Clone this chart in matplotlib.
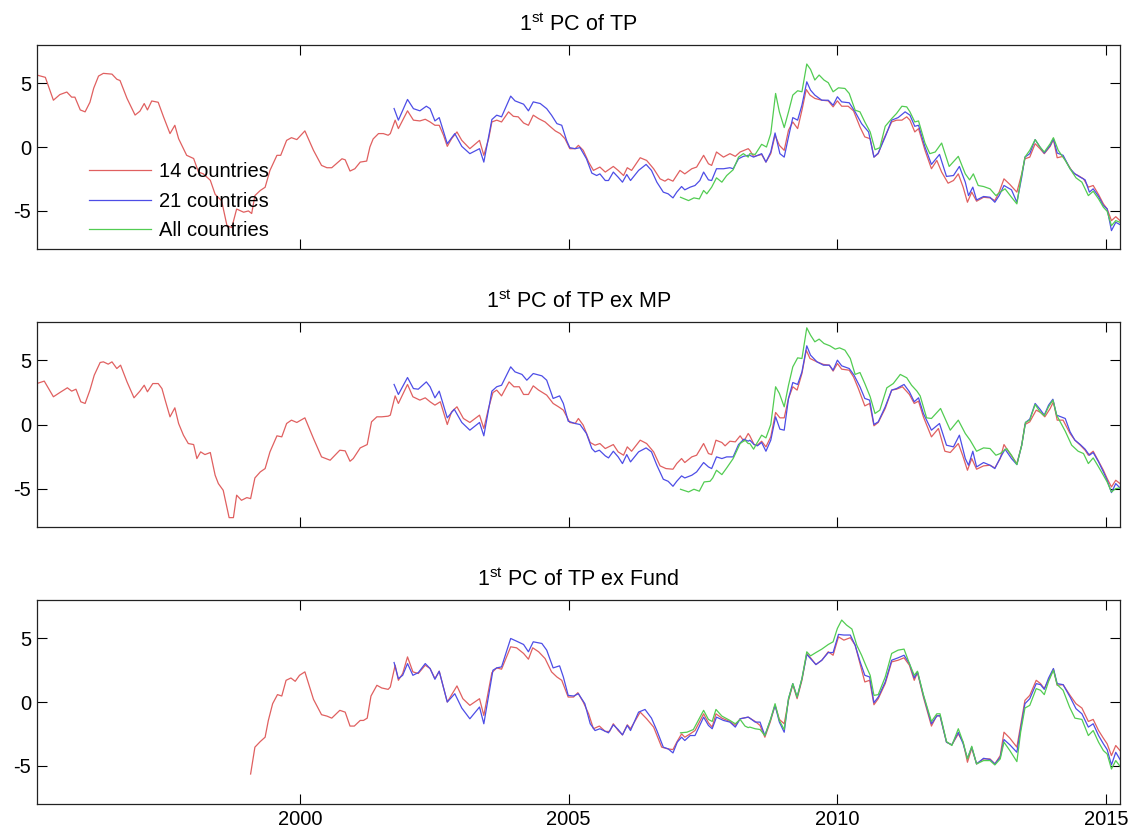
import matplotlib
matplotlib.use("Agg")
import matplotlib.pyplot as plt

plt.rcParams['font.family'] = ['Liberation Sans', 'DejaVu Sans']
plt.rcParams['mathtext.fontset'] = 'custom'
plt.rcParams['mathtext.rm'] = 'Liberation Sans'
plt.rcParams['axes.unicode_minus'] = False

# series labels and panel titles
labels = ['14 countries', '21 countries', 'All countries']
titles = [r'1$^{\rm st}$ PC of TP', r'1$^{\rm st}$ PC of TP ex MP', r'1$^{\rm st}$ PC of TP ex Fund']
x_ticks = [2000, 2005, 2010, 2015]
y_ticks = [-5, 0, 5]

# --- panel 1: 1st PC of TP ---
tp_14_x = [1995.10, 1995.26, 1995.41, 1995.53, 1995.66, 1995.75, 1995.81, 1995.91, 1996.00, 1996.09,
           1996.16, 1996.25, 1996.34, 1996.50, 1996.59, 1996.65, 1996.78, 1996.93, 1997.02, 1997.10,
           1997.16, 1997.24, 1997.36, 1997.46, 1997.58, 1997.67, 1997.74, 1997.89, 1998.02, 1998.11,
           1998.20, 1998.33, 1998.42, 1998.54, 1998.64, 1998.73, 1998.82, 1998.95, 1999.04, 1999.10,
           1999.16, 1999.26, 1999.35, 1999.44, 1999.57, 1999.64, 1999.75, 1999.84, 1999.94, 2000.09,
           2000.25, 2000.40, 2000.50, 2000.59, 2000.78, 2000.84, 2000.93, 2001.02, 2001.12, 2001.24,
           2001.30, 2001.36, 2001.46, 2001.55, 2001.64, 2001.68, 2001.77, 2001.83, 2002.00, 2002.11,
           2002.23, 2002.33, 2002.42, 2002.51, 2002.59, 2002.67, 2002.74, 2002.82, 2002.92, 2003.01,
           2003.16, 2003.34, 2003.42, 2003.51, 2003.57, 2003.66, 2003.75, 2003.88, 2003.97, 2004.06,
           2004.16, 2004.25, 2004.34, 2004.44, 2004.56, 2004.65, 2004.75, 2004.84, 2004.93, 2005.02,
           2005.12, 2005.18, 2005.27, 2005.37, 2005.46, 2005.58, 2005.68, 2005.83, 2005.92, 2006.02,
           2006.09, 2006.17, 2006.33, 2006.45, 2006.58, 2006.70, 2006.79, 2006.85, 2006.94, 2007.07,
           2007.16, 2007.29, 2007.38, 2007.51, 2007.60, 2007.66, 2007.75, 2007.88, 2008.00, 2008.10,
           2008.19, 2008.34, 2008.37, 2008.44, 2008.53, 2008.59, 2008.67, 2008.76, 2008.84, 2008.92,
           2009.01, 2009.09, 2009.17, 2009.26, 2009.34, 2009.42, 2009.49, 2009.58, 2009.71, 2009.83,
           2009.92, 2010.00, 2010.08, 2010.20, 2010.30, 2010.42, 2010.51, 2010.61, 2010.68, 2010.76,
           2010.85, 2011.01, 2011.10, 2011.20, 2011.29, 2011.35, 2011.44, 2011.51, 2011.63, 2011.75,
           2011.85, 2011.94, 2012.06, 2012.16, 2012.25, 2012.34, 2012.42, 2012.50, 2012.59, 2012.72,
           2012.84, 2012.93, 2013.01, 2013.10, 2013.21, 2013.34, 2013.43, 2013.49, 2013.58, 2013.68,
           2013.77, 2013.85, 2013.96, 2014.02, 2014.09, 2014.20, 2014.30, 2014.39, 2014.48, 2014.58,
           2014.67, 2014.76, 2014.86, 2014.95, 2015.02, 2015.10, 2015.18, 2015.26]
tp_14_y = [5.63, 5.45, 3.66, 4.10, 4.30, 3.90, 3.90, 2.90, 2.75, 3.50,
           4.60, 5.55, 5.76, 5.70, 5.30, 5.20, 3.80, 2.50, 2.80, 3.40,
           2.90, 3.60, 3.50, 2.35, 1.05, 1.70, 0.65, -0.65, -0.90, -1.96,
           -2.10, -2.60, -3.70, -4.20, -6.15, -6.30, -4.85, -5.10, -5.00, -5.20,
           -3.80, -3.40, -3.15, -1.83, -0.65, -0.65, 0.52, 0.73, 0.58, 1.26,
           -0.26, -1.44, -1.62, -1.62, -0.92, -1.00, -1.88, -1.70, -1.18, -1.10,
           0.00, 0.63, 1.05, 1.05, 0.92, 1.05, 2.10, 1.44, 2.83, 2.10,
           2.04, 2.17, 1.96, 1.70, 1.70, 0.92, 0.05, 0.65, 1.18, 0.52,
           -0.13, 0.52, -0.65, 0.65, 1.96, 2.10, 1.96, 2.75, 2.40, 2.36,
           1.88, 1.70, 2.49, 2.22, 1.96, 1.62, 1.26, 1.05, 0.65, -0.13,
           -0.13, 0.13, -0.26, -1.18, -1.83, -1.57, -1.96, -1.52, -1.83, -2.23,
           -1.62, -1.83, -0.84, -1.05, -1.70, -2.49, -2.67, -2.50, -2.67, -1.83,
           -2.10, -1.70, -1.57, -0.65, -1.31, -1.44, -0.39, -0.79, -0.52, -0.73,
           -0.39, -0.13, -0.26, -0.73, -0.65, -0.58, -1.18, -0.52, 0.92, 0.13,
           -0.26, 1.31, 1.96, 1.44, 2.88, 4.50, 4.06, 3.80, 3.66, 3.61,
           3.14, 3.61, 3.19, 3.19, 2.83, 1.57, 0.79, 0.65, -0.79, -0.52,
           0.52, 1.96, 2.10, 2.10, 2.36, 2.10, 1.18, 1.44, -0.26, -1.70,
           -1.05, -1.96, -2.83, -2.62, -2.10, -3.14, -4.32, -3.53, -4.24, -3.93,
           -3.98, -4.19, -3.53, -2.49, -2.93, -3.53, -2.10, -0.92, -0.79, 0.26,
           -0.13, -0.52, 0.05, 0.58, -0.84, -0.73, -1.44, -2.04, -2.23, -2.49,
           -3.14, -3.01, -3.72, -4.45, -4.84, -5.76, -5.45, -5.76]

tp_21_x = [2001.75, 2001.83, 2002.00, 2002.11, 2002.23, 2002.35, 2002.42, 2002.51, 2002.59, 2002.74,
           2002.88, 2003.01, 2003.16, 2003.34, 2003.42, 2003.57, 2003.66, 2003.75, 2003.92, 2004.00,
           2004.16, 2004.25, 2004.34, 2004.47, 2004.59, 2004.68, 2004.78, 2004.87, 2004.96, 2005.02,
           2005.12, 2005.21, 2005.33, 2005.43, 2005.52, 2005.58, 2005.68, 2005.74, 2005.83, 2005.92,
           2006.00, 2006.08, 2006.15, 2006.30, 2006.44, 2006.54, 2006.64, 2006.76, 2006.85, 2006.94,
           2007.01, 2007.10, 2007.16, 2007.26, 2007.35, 2007.44, 2007.51, 2007.60, 2007.66, 2007.75,
           2007.88, 2008.00, 2008.06, 2008.16, 2008.25, 2008.34, 2008.37, 2008.44, 2008.59, 2008.67,
           2008.76, 2008.84, 2008.93, 2009.01, 2009.09, 2009.17, 2009.26, 2009.34, 2009.43, 2009.50,
           2009.58, 2009.71, 2009.83, 2009.92, 2010.00, 2010.08, 2010.22, 2010.33, 2010.45, 2010.58,
           2010.68, 2010.76, 2010.89, 2011.01, 2011.13, 2011.26, 2011.35, 2011.44, 2011.51, 2011.63,
           2011.75, 2011.90, 2012.03, 2012.16, 2012.27, 2012.38, 2012.44, 2012.52, 2012.59, 2012.72,
           2012.84, 2012.93, 2013.01, 2013.10, 2013.24, 2013.34, 2013.43, 2013.49, 2013.58, 2013.68,
           2013.77, 2013.85, 2013.96, 2014.02, 2014.09, 2014.20, 2014.33, 2014.42, 2014.52, 2014.61,
           2014.69, 2014.76, 2014.86, 2014.95, 2015.02, 2015.10, 2015.18, 2015.26]
tp_21_y = [3.01, 2.10, 3.72, 3.00, 2.83, 3.19, 3.00, 2.04, 2.30, 0.26,
           1.05, 0.05, -0.52, -0.13, -1.18, 2.15, 2.49, 2.36, 3.98, 3.61,
           3.35, 2.83, 3.53, 3.40, 3.00, 2.49, 1.83, 1.70, 0.52, -0.05,
           -0.13, -0.05, -0.92, -2.04, -2.23, -2.10, -2.62, -2.62, -1.96, -2.36,
           -2.75, -2.15, -2.62, -1.83, -1.36, -1.83, -2.75, -3.53, -3.66, -3.98,
           -3.53, -3.09, -3.35, -3.14, -3.01, -2.62, -1.96, -2.57, -2.62, -1.70,
           -1.70, -1.62, -1.70, -0.92, -0.73, -0.65, -0.65, -0.79, -0.52, -1.18,
           -0.39, 1.10, -0.52, -0.79, 0.79, 2.30, 2.10, 3.27, 5.10, 4.45,
           4.06, 3.66, 3.66, 3.27, 3.93, 3.53, 3.46, 2.75, 1.83, 1.18,
           -0.79, -0.47, 0.79, 2.10, 2.30, 2.75, 2.49, 1.62, 1.70, 0.00,
           -1.36, -0.58, -2.30, -2.23, -1.52, -2.75, -3.80, -3.14, -4.14, -3.87,
           -3.93, -4.32, -3.80, -3.01, -3.35, -4.32, -2.36, -0.79, -0.52, 0.58,
           0.00, -0.47, 0.13, 0.65, -0.47, -0.65, -1.70, -2.10, -2.36, -2.57,
           -3.53, -3.27, -3.87, -4.58, -4.84, -6.54, -5.89, -6.07]

tp_all_x = [2007.08, 2007.23, 2007.33, 2007.43, 2007.51, 2007.57, 2007.66, 2007.75, 2007.85, 2007.94,
            2008.06, 2008.16, 2008.25, 2008.34, 2008.37, 2008.47, 2008.59, 2008.68, 2008.76, 2008.85,
            2008.92, 2009.01, 2009.09, 2009.17, 2009.26, 2009.34, 2009.43, 2009.50, 2009.58, 2009.66,
            2009.75, 2009.83, 2009.92, 2010.02, 2010.14, 2010.22, 2010.33, 2010.42, 2010.51, 2010.61,
            2010.70, 2010.79, 2010.89, 2011.01, 2011.10, 2011.20, 2011.29, 2011.35, 2011.44, 2011.51,
            2011.63, 2011.72, 2011.82, 2011.94, 2012.08, 2012.25, 2012.38, 2012.46, 2012.53, 2012.62,
            2012.72, 2012.84, 2012.95, 2013.03, 2013.12, 2013.24, 2013.34, 2013.41, 2013.49, 2013.58,
            2013.68, 2013.77, 2013.85, 2013.96, 2014.02, 2014.11, 2014.24, 2014.33, 2014.44, 2014.55,
            2014.67, 2014.76, 2014.86, 2014.95, 2015.02, 2015.10, 2015.18, 2015.26]
tp_all_y = [-3.93, -4.19, -3.98, -4.06, -3.40, -3.66, -3.14, -2.41, -2.75, -2.23,
            -1.78, -0.79, -0.52, -0.79, -0.52, -0.58, 0.21, 0.00, 1.05, 4.19,
            2.75, 1.52, 2.75, 4.06, 4.40, 4.32, 6.49, 6.07, 5.24, 5.63,
            5.24, 5.03, 4.32, 4.63, 4.58, 4.19, 2.88, 2.75, 1.96, 1.18,
            -0.21, -0.05, 1.62, 2.22, 2.62, 3.19, 3.14, 2.75, 1.96, 2.04,
            0.31, -0.52, -0.39, 0.31, -1.52, -0.73, -2.10, -2.57, -2.10, -3.01,
            -3.09, -3.27, -3.80, -3.53, -3.27, -3.93, -4.45, -2.62, -0.79, -0.26,
            0.58, 0.00, -0.39, 0.26, 0.73, -0.26, -1.05, -1.70, -2.41, -2.75,
            -3.80, -3.46, -4.06, -4.71, -5.03, -6.15, -5.76, -5.89]

# --- panel 2: 1st PC of TP ex MP ---
mp_14_x = [1995.10, 1995.24, 1995.41, 1995.53, 1995.67, 1995.75, 1995.83, 1995.92, 1996.00, 1996.09,
           1996.17, 1996.28, 1996.34, 1996.43, 1996.50, 1996.59, 1996.66, 1996.78, 1996.91, 1997.02,
           1997.10, 1997.16, 1997.26, 1997.36, 1997.43, 1997.49, 1997.58, 1997.67, 1997.74, 1997.83,
           1997.92, 1998.02, 1998.08, 1998.15, 1998.23, 1998.33, 1998.42, 1998.48, 1998.57, 1998.68,
           1998.76, 1998.82, 1998.91, 1999.01, 1999.08, 1999.16, 1999.26, 1999.35, 1999.44, 1999.57,
           1999.66, 1999.75, 1999.84, 1999.94, 2000.09, 2000.25, 2000.40, 2000.56, 2000.74, 2000.84,
           2000.93, 2000.99, 2001.12, 2001.25, 2001.33, 2001.43, 2001.52, 2001.64, 2001.68, 2001.77,
           2001.83, 2002.00, 2002.10, 2002.23, 2002.33, 2002.42, 2002.51, 2002.61, 2002.74, 2002.82,
           2002.92, 2003.04, 2003.16, 2003.34, 2003.42, 2003.51, 2003.59, 2003.66, 2003.75, 2003.89,
           2003.98, 2004.08, 2004.16, 2004.25, 2004.34, 2004.44, 2004.59, 2004.71, 2004.81, 2004.90,
           2005.02, 2005.12, 2005.18, 2005.27, 2005.40, 2005.49, 2005.58, 2005.68, 2005.83, 2005.92,
           2006.02, 2006.09, 2006.17, 2006.33, 2006.45, 2006.58, 2006.70, 2006.81, 2006.94, 2007.01,
           2007.10, 2007.16, 2007.29, 2007.38, 2007.51, 2007.60, 2007.66, 2007.74, 2007.85, 2007.91,
           2008.00, 2008.10, 2008.19, 2008.26, 2008.34, 2008.37, 2008.45, 2008.51, 2008.59, 2008.67,
           2008.76, 2008.85, 2008.93, 2009.01, 2009.09, 2009.17, 2009.25, 2009.34, 2009.42, 2009.49,
           2009.62, 2009.74, 2009.85, 2009.92, 2010.00, 2010.08, 2010.22, 2010.30, 2010.39, 2010.51,
           2010.60, 2010.68, 2010.76, 2010.89, 2011.01, 2011.10, 2011.21, 2011.34, 2011.43, 2011.51,
           2011.60, 2011.75, 2011.88, 2012.00, 2012.10, 2012.25, 2012.33, 2012.42, 2012.50, 2012.59,
           2012.72, 2012.84, 2012.93, 2013.03, 2013.10, 2013.21, 2013.34, 2013.43, 2013.49, 2013.58,
           2013.70, 2013.78, 2013.86, 2013.96, 2014.02, 2014.09, 2014.20, 2014.33, 2014.42, 2014.52,
           2014.61, 2014.67, 2014.76, 2014.86, 2014.95, 2015.02, 2015.10, 2015.18, 2015.26]
mp_14_y = [3.19, 3.38, 2.16, 2.49, 2.86, 2.60, 2.75, 1.77, 1.64, 2.68,
           3.84, 4.83, 4.88, 4.70, 4.88, 4.36, 4.62, 3.32, 2.08, 2.60,
           3.06, 2.55, 3.19, 3.19, 2.80, 1.90, 0.60, 1.30, 0.08, -0.83,
           -1.48, -1.56, -2.65, -2.13, -2.34, -2.18, -3.95, -4.60, -5.12, -7.25,
           -7.25, -5.50, -5.90, -5.69, -5.77, -4.16, -3.69, -3.43, -2.13, -0.88,
           -0.96, 0.08, 0.34, 0.16, 0.52, -1.09, -2.52, -2.78, -2.00, -2.05,
           -2.86, -2.65, -1.82, -1.56, 0.21, 0.60, 0.60, 0.65, 0.73, 2.23,
           1.64, 3.12, 2.16, 1.90, 2.08, 1.77, 1.51, 1.77, 0.00, 0.99,
           1.38, 0.47, 0.16, 0.73, -0.31, 1.30, 2.49, 2.68, 2.23, 3.32,
           2.94, 2.94, 2.34, 2.34, 3.01, 2.68, 2.29, 1.64, 1.38, 1.12,
           0.16, 0.08, 0.47, -0.05, -1.40, -1.61, -1.48, -1.87, -1.56, -2.13,
           -2.39, -1.74, -2.08, -1.22, -1.48, -2.13, -3.22, -3.43, -3.48, -3.04,
           -2.65, -2.96, -2.52, -2.39, -1.48, -2.26, -2.34, -1.22, -1.40, -1.66,
           -1.30, -1.35, -0.88, -1.30, -0.70, -0.88, -1.56, -1.61, -1.30, -1.74,
           -0.96, 0.94, 0.52, 0.52, 2.03, 2.94, 2.68, 3.97, 5.79, 5.14,
           4.88, 4.68, 4.62, 4.16, 4.75, 4.31, 4.23, 3.71, 2.80, 1.45,
           1.64, -0.10, 0.16, 1.25, 2.68, 2.75, 2.94, 2.34, 1.64, 1.82,
           0.60, -0.96, -0.31, -2.08, -2.18, -1.48, -2.39, -3.56, -2.65, -3.48,
           -3.22, -3.17, -3.38, -2.65, -1.56, -2.26, -3.04, -1.61, 0.00, 0.21,
           1.12, 0.94, 0.60, 1.25, 1.77, 0.34, 0.34, -0.70, -1.22, -1.61,
           -2.00, -2.39, -2.08, -2.86, -3.56, -4.21, -4.86, -4.34, -4.60]

mp_21_x = [2001.75, 2001.83, 2002.00, 2002.11, 2002.20, 2002.35, 2002.42, 2002.51, 2002.59, 2002.74,
           2002.87, 2003.01, 2003.16, 2003.34, 2003.42, 2003.57, 2003.66, 2003.75, 2003.92, 2004.00,
           2004.13, 2004.22, 2004.34, 2004.50, 2004.59, 2004.71, 2004.83, 2004.90, 2004.99, 2005.12,
           2005.21, 2005.33, 2005.43, 2005.49, 2005.57, 2005.68, 2005.74, 2005.83, 2005.92, 2006.00,
           2006.08, 2006.15, 2006.30, 2006.44, 2006.54, 2006.64, 2006.76, 2006.85, 2006.94, 2007.01,
           2007.10, 2007.16, 2007.29, 2007.38, 2007.51, 2007.60, 2007.66, 2007.75, 2007.85, 2007.94,
           2008.06, 2008.16, 2008.26, 2008.34, 2008.37, 2008.45, 2008.51, 2008.59, 2008.67, 2008.76,
           2008.85, 2008.93, 2009.01, 2009.09, 2009.17, 2009.26, 2009.34, 2009.43, 2009.50, 2009.62,
           2009.74, 2009.85, 2009.92, 2010.00, 2010.08, 2010.22, 2010.31, 2010.42, 2010.51, 2010.60,
           2010.68, 2010.76, 2010.89, 2011.01, 2011.10, 2011.24, 2011.34, 2011.43, 2011.51, 2011.60,
           2011.75, 2011.90, 2012.03, 2012.16, 2012.27, 2012.38, 2012.44, 2012.52, 2012.59, 2012.72,
           2012.84, 2012.93, 2013.03, 2013.12, 2013.24, 2013.34, 2013.43, 2013.50, 2013.58, 2013.68,
           2013.77, 2013.85, 2013.93, 2014.01, 2014.08, 2014.24, 2014.33, 2014.42, 2014.52, 2014.61,
           2014.69, 2014.76, 2014.86, 2014.95, 2015.02, 2015.10, 2015.18, 2015.26]
mp_21_y = [3.12, 2.34, 3.66, 2.80, 2.75, 3.32, 2.94, 2.08, 2.60, 0.52,
           1.19, 0.16, -0.44, 0.16, -0.88, 2.60, 2.94, 3.06, 4.49, 4.10,
           3.90, 3.45, 3.97, 3.79, 3.45, 2.03, 2.23, 1.64, 0.26, 0.08,
           0.00, -0.70, -1.87, -2.13, -2.00, -2.44, -2.60, -2.08, -2.52, -3.04,
           -2.34, -2.91, -2.13, -1.82, -2.13, -3.17, -4.26, -4.42, -4.81, -4.42,
           -4.00, -4.16, -3.95, -3.69, -2.96, -3.30, -3.43, -2.52, -2.65, -2.52,
           -2.52, -1.56, -1.14, -1.30, -1.22, -1.56, -1.66, -1.40, -2.08, -1.22,
           0.60, -0.36, -0.44, 2.03, 3.27, 3.12, 4.10, 6.13, 5.40, 4.88,
           4.62, 4.62, 4.23, 5.01, 4.57, 4.36, 3.84, 2.94, 2.03, 1.90,
           0.00, 0.21, 1.38, 2.68, 2.80, 3.12, 2.55, 1.77, 2.08, 0.86,
           -0.44, 0.08, -1.61, -1.74, -0.83, -2.65, -3.17, -2.08, -3.30, -2.96,
           -3.17, -3.43, -2.60, -1.92, -2.65, -3.12, -1.61, 0.16, 0.42, 1.64,
           1.19, 0.73, 1.51, 1.97, 0.73, 0.47, -0.57, -1.22, -1.56, -1.92,
           -2.39, -2.18, -2.91, -3.69, -4.34, -5.30, -4.60, -4.94]

mp_all_x = [2007.08, 2007.23, 2007.33, 2007.43, 2007.52, 2007.63, 2007.68, 2007.75, 2007.85, 2007.94,
            2008.06, 2008.19, 2008.28, 2008.34, 2008.37, 2008.44, 2008.51, 2008.59, 2008.67, 2008.76,
            2008.85, 2008.92, 2009.01, 2009.09, 2009.17, 2009.26, 2009.34, 2009.43, 2009.50, 2009.58,
            2009.66, 2009.75, 2009.86, 2009.96, 2010.04, 2010.14, 2010.24, 2010.33, 2010.42, 2010.51,
            2010.61, 2010.70, 2010.79, 2010.92, 2011.04, 2011.17, 2011.29, 2011.38, 2011.48, 2011.54,
            2011.66, 2011.75, 2011.92, 2012.10, 2012.25, 2012.38, 2012.47, 2012.59, 2012.72, 2012.84,
            2012.95, 2013.03, 2013.15, 2013.24, 2013.34, 2013.43, 2013.50, 2013.58, 2013.68, 2013.77,
            2013.85, 2013.93, 2014.01, 2014.08, 2014.24, 2014.36, 2014.48, 2014.58, 2014.67, 2014.76,
            2014.86, 2014.95, 2015.02, 2015.10, 2015.18, 2015.26]
mp_all_y = [-5.04, -5.25, -5.04, -5.19, -4.47, -4.42, -4.16, -3.56, -3.90, -3.38,
            -2.65, -1.48, -1.22, -1.48, -1.48, -1.92, -1.40, -0.83, -1.04, 0.00,
            2.94, 2.42, 1.38, 3.06, 4.49, 5.19, 5.14, 7.53, 6.96, 6.44,
            6.65, 6.31, 6.13, 5.87, 5.97, 5.79, 5.14, 3.90, 4.05, 3.19,
            2.16, 0.86, 1.12, 2.86, 3.19, 3.90, 3.64, 3.06, 2.60, 2.23,
            0.52, 0.47, 1.25, -0.44, 0.34, -0.70, -1.22, -2.08, -1.82, -1.87,
            -2.39, -2.26, -1.87, -2.39, -3.12, -1.61, 0.16, 0.34, 1.56, 0.99,
            0.68, 1.38, 1.90, 0.73, -0.52, -1.61, -2.08, -2.26, -3.04, -2.60,
            -3.30, -3.95, -4.47, -5.25, -4.99, -4.94]

# --- panel 3: 1st PC of TP ex Fund ---
fd_14_x = [1999.08, 1999.16, 1999.26, 1999.35, 1999.41, 1999.49, 1999.58, 1999.66, 1999.74, 1999.83,
           1999.91, 1999.99, 2000.09, 2000.25, 2000.40, 2000.50, 2000.59, 2000.74, 2000.84, 2000.93,
           2001.01, 2001.12, 2001.18, 2001.25, 2001.32, 2001.43, 2001.52, 2001.64, 2001.68, 2001.77,
           2001.83, 2001.91, 2002.00, 2002.10, 2002.20, 2002.33, 2002.42, 2002.51, 2002.59, 2002.74,
           2002.92, 2003.03, 2003.16, 2003.34, 2003.42, 2003.57, 2003.66, 2003.75, 2003.92, 2004.03,
           2004.16, 2004.25, 2004.33, 2004.44, 2004.56, 2004.68, 2004.78, 2004.87, 2004.99, 2005.09,
           2005.17, 2005.27, 2005.37, 2005.46, 2005.57, 2005.68, 2005.76, 2005.83, 2005.92, 2006.00,
           2006.09, 2006.15, 2006.33, 2006.45, 2006.58, 2006.73, 2006.84, 2006.94, 2007.01, 2007.10,
           2007.16, 2007.26, 2007.35, 2007.51, 2007.60, 2007.67, 2007.74, 2007.85, 2008.00, 2008.10,
           2008.19, 2008.34, 2008.37, 2008.47, 2008.56, 2008.65, 2008.75, 2008.84, 2008.92, 2009.01,
           2009.09, 2009.17, 2009.25, 2009.34, 2009.43, 2009.50, 2009.60, 2009.71, 2009.83, 2009.92,
           2010.02, 2010.12, 2010.24, 2010.33, 2010.42, 2010.51, 2010.60, 2010.68, 2010.76, 2010.89,
           2011.01, 2011.13, 2011.24, 2011.34, 2011.43, 2011.49, 2011.60, 2011.75, 2011.85, 2011.91,
           2012.03, 2012.13, 2012.25, 2012.34, 2012.42, 2012.50, 2012.59, 2012.72, 2012.84, 2012.93,
           2013.03, 2013.10, 2013.21, 2013.34, 2013.41, 2013.49, 2013.58, 2013.70, 2013.78, 2013.85,
           2013.93, 2014.02, 2014.09, 2014.20, 2014.33, 2014.44, 2014.55, 2014.67, 2014.76, 2014.86,
           2014.95, 2015.02, 2015.10, 2015.18, 2015.26]
fd_14_y = [-5.63, -3.53, -3.09, -2.75, -1.44, -0.13, 0.58, 0.47, 1.70, 1.88,
           1.62, 2.09, 2.36, 0.21, -0.99, -1.10, -1.26, -0.65, -0.79, -1.88,
           -1.88, -1.44, -1.44, -1.26, 0.47, 1.31, 1.10, 0.99, 1.18, 2.88,
           1.70, 2.23, 3.53, 2.36, 2.23, 2.88, 2.62, 1.83, 2.41, 0.00,
           1.26, 0.26, -0.26, 0.26, -1.05, 2.30, 2.67, 2.57, 4.32, 4.24,
           3.80, 3.35, 4.24, 3.93, 3.40, 2.36, 1.96, 1.70, 0.39, 0.39,
           0.73, 0.00, -0.92, -2.09, -1.88, -2.30, -2.30, -1.70, -2.23, -2.57,
           -1.78, -2.09, -0.79, -1.31, -1.96, -3.53, -3.66, -3.72, -3.14, -2.49,
           -2.75, -2.49, -2.23, -0.92, -1.62, -1.96, -0.92, -1.26, -1.52, -1.83,
           -1.31, -1.18, -1.26, -1.52, -1.83, -2.75, -1.57, -0.26, -1.36, -1.70,
           0.13, 1.36, 0.26, 1.70, 3.80, 3.46, 2.93, 3.27, 3.93, 3.66,
           5.10, 4.84, 5.03, 4.45, 3.01, 1.57, 1.70, -0.21, 0.26, 1.44,
           3.14, 3.27, 3.46, 2.88, 1.70, 2.30, 0.39, -1.88, -1.05, -1.10,
           -3.14, -3.35, -2.49, -3.14, -4.71, -3.61, -4.84, -4.45, -4.45, -4.84,
           -4.19, -2.36, -2.83, -3.53, -1.83, 0.13, 0.52, 1.70, 1.44, 1.05,
           1.70, 2.57, 1.31, 1.36, 0.52, -0.13, -0.47, -1.52, -1.36, -2.23,
           -2.83, -3.27, -4.19, -3.40, -3.80]

fd_21_x = [2001.75, 2001.83, 2001.91, 2002.00, 2002.10, 2002.20, 2002.33, 2002.42, 2002.51, 2002.59,
           2002.74, 2002.88, 2003.01, 2003.16, 2003.34, 2003.42, 2003.59, 2003.66, 2003.75, 2003.92,
           2004.03, 2004.16, 2004.25, 2004.34, 2004.50, 2004.59, 2004.71, 2004.83, 2004.90, 2004.99,
           2005.09, 2005.18, 2005.30, 2005.40, 2005.49, 2005.58, 2005.74, 2005.83, 2005.92, 2006.00,
           2006.09, 2006.15, 2006.30, 2006.42, 2006.54, 2006.64, 2006.76, 2006.85, 2006.94, 2007.02,
           2007.10, 2007.16, 2007.26, 2007.35, 2007.51, 2007.60, 2007.67, 2007.75, 2007.88, 2008.00,
           2008.10, 2008.19, 2008.34, 2008.37, 2008.47, 2008.56, 2008.65, 2008.75, 2008.84, 2008.92,
           2009.01, 2009.09, 2009.17, 2009.25, 2009.34, 2009.43, 2009.50, 2009.60, 2009.71, 2009.83,
           2009.92, 2010.02, 2010.12, 2010.24, 2010.33, 2010.42, 2010.51, 2010.60, 2010.68, 2010.76,
           2010.89, 2011.01, 2011.13, 2011.24, 2011.34, 2011.43, 2011.49, 2011.60, 2011.75, 2011.85,
           2011.91, 2012.03, 2012.13, 2012.25, 2012.34, 2012.42, 2012.50, 2012.59, 2012.72, 2012.84,
           2012.93, 2013.03, 2013.10, 2013.21, 2013.34, 2013.41, 2013.49, 2013.58, 2013.70, 2013.78,
           2013.85, 2013.93, 2014.02, 2014.09, 2014.20, 2014.33, 2014.44, 2014.55, 2014.67, 2014.76,
           2014.86, 2014.95, 2015.02, 2015.10, 2015.18, 2015.26]
fd_21_y = [3.09, 1.83, 2.09, 3.01, 2.09, 2.30, 3.01, 2.62, 1.78, 2.41,
           0.00, 0.65, -0.47, -1.31, -0.39, -1.70, 2.49, 2.67, 2.75, 4.97,
           4.76, 4.50, 3.93, 4.71, 4.58, 4.06, 2.67, 2.83, 1.96, 0.52,
           0.47, 0.65, -0.13, -1.70, -2.23, -2.09, -2.41, -1.78, -2.15, -2.57,
           -1.83, -2.23, -0.79, -0.58, -1.26, -2.23, -3.53, -3.66, -3.98, -3.14,
           -2.75, -3.01, -2.62, -2.62, -1.18, -1.83, -2.09, -1.18, -1.44, -1.57,
           -1.96, -1.31, -1.18, -1.26, -1.57, -1.57, -2.62, -1.44, -0.26, -1.57,
           -2.36, 0.26, 1.44, 0.39, 1.83, 3.72, 3.40, 2.93, 3.27, 3.87,
           3.87, 5.29, 5.24, 5.24, 4.45, 3.19, 2.09, 1.96, -0.05, 0.39,
           1.57, 3.27, 3.46, 3.66, 3.01, 1.88, 2.36, 0.52, -1.70, -1.10,
           -1.05, -3.14, -3.35, -2.36, -3.27, -4.40, -3.53, -4.84, -4.40, -4.50,
           -4.84, -4.32, -2.93, -3.35, -3.93, -2.09, -0.13, 0.26, 1.44, 1.36,
           0.99, 1.88, 2.62, 1.44, 1.36, 0.39, -0.52, -0.92, -1.96, -1.70,
           -2.62, -3.27, -3.72, -4.92, -3.93, -4.50]

fd_all_x = [2007.08, 2007.20, 2007.32, 2007.51, 2007.60, 2007.67, 2007.74, 2007.85, 2008.00, 2008.10,
            2008.19, 2008.28, 2008.34, 2008.37, 2008.47, 2008.56, 2008.65, 2008.75, 2008.84, 2008.92,
            2009.01, 2009.09, 2009.17, 2009.25, 2009.34, 2009.43, 2009.50, 2009.60, 2009.71, 2009.83,
            2009.92, 2010.00, 2010.08, 2010.17, 2010.27, 2010.36, 2010.45, 2010.54, 2010.61, 2010.68,
            2010.76, 2010.89, 2011.01, 2011.13, 2011.24, 2011.34, 2011.43, 2011.49, 2011.60, 2011.75,
            2011.85, 2011.91, 2012.03, 2012.13, 2012.25, 2012.34, 2012.42, 2012.50, 2012.59, 2012.72,
            2012.84, 2012.93, 2013.03, 2013.10, 2013.21, 2013.34, 2013.41, 2013.49, 2013.58, 2013.70,
            2013.78, 2013.85, 2013.93, 2014.02, 2014.09, 2014.20, 2014.32, 2014.42, 2014.55, 2014.67,
            2014.76, 2014.86, 2014.95, 2015.02, 2015.10, 2015.18, 2015.26]
fd_all_y = [-2.41, -2.36, -2.15, -0.65, -1.36, -1.52, -0.58, -1.10, -1.44, -1.70,
            -1.36, -1.88, -2.00, -1.96, -2.09, -2.15, -2.62, -1.44, -0.13, -1.44,
            -2.15, 0.26, 1.44, 0.39, 1.83, 3.93, 3.61, 3.87, 4.14, 4.50,
            4.71, 5.76, 6.41, 6.02, 5.71, 4.45, 3.66, 2.75, 2.09, 0.52,
            0.58, 1.96, 3.80, 4.06, 4.14, 3.01, 2.09, 2.41, 0.58, -1.52,
            -0.92, -0.92, -3.09, -3.40, -2.09, -3.14, -4.45, -3.46, -4.84, -4.58,
            -4.58, -4.92, -4.45, -3.14, -3.80, -4.66, -2.36, -0.47, -0.26, 1.05,
            0.92, 0.58, 1.62, 2.49, 1.36, 0.92, -0.39, -1.26, -1.36, -2.62,
            -2.23, -3.14, -3.80, -4.06, -5.24, -4.58, -5.03]

panels = [
    [(tp_14_x, tp_14_y), (tp_21_x, tp_21_y), (tp_all_x, tp_all_y)],
    [(mp_14_x, mp_14_y), (mp_21_x, mp_21_y), (mp_all_x, mp_all_y)],
    [(fd_14_x, fd_14_y), (fd_21_x, fd_21_y), (fd_all_x, fd_all_y)],
]
colors = ['#e06060', '#4d4de6', '#52cc52']

fig = plt.figure(figsize=(11.34, 8.36), dpi=100)
fig.patch.set_facecolor('white')

boxes = [(0.0324, 0.7018, 0.9553, 0.2447),
         (0.0324, 0.3693, 0.9553, 0.2458),
         (0.0324, 0.0379, 0.9553, 0.2447)]

for i, (series, title, box) in enumerate(zip(panels, titles, boxes)):
    ax = fig.add_axes(box)
    for (xs, ys), c, lab in zip(series, colors, labels):
        ax.plot(xs, ys, color=c, lw=0.9, label=lab)
    ax.set_xlim(1995.10, 2015.26)
    ax.set_ylim(-8, 8)
    ax.set_xticks(x_ticks)
    ax.set_yticks(y_ticks)
    ax.tick_params(direction='in', length=7, width=0.8, top=True, right=True,
                   labelsize=14.5, colors='black', pad=4)
    if i < 2:
        ax.set_xticklabels([])
    for s in ax.spines.values():
        s.set_linewidth(0.9)
        s.set_color('#222222')
    ax.set_title(title, fontsize=15.5, pad=10)
    if i == 0:
        ax.legend(loc='lower left', bbox_to_anchor=(0.048, 0.044), frameon=False,
                  fontsize=14.5, handlelength=3.1, handletextpad=0.4,
                  labelspacing=0.52, borderpad=0, borderaxespad=0)

fig.savefig('out.png', dpi=100)
